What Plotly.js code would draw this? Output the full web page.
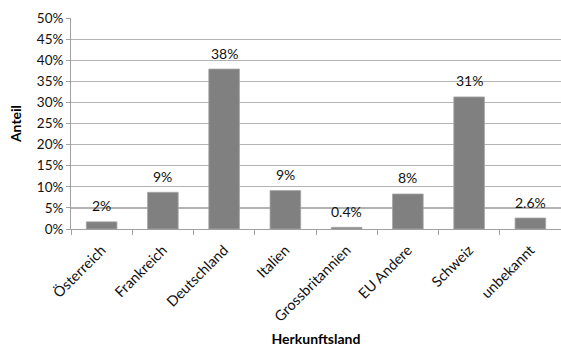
<!DOCTYPE html>
<html>
<head>
<meta charset="utf-8">
<script src="https://cdn.plot.ly/plotly-3.0.1.min.js"></script>
<style>
  html, body { margin: 0; padding: 0; background: #fff; }
  #chart { width: 561px; height: 347px; }
</style>
</head>
<body>
<div id="chart"></div>
<script>
// Share of origin countries (percent)
const countries = ['Österreich', 'Frankreich', 'Deutschland', 'Italien', 'Grossbritannien', 'EU Andere', 'Schweiz', 'unbekannt'];
const shares = [1.7, 8.7, 37.9, 9.1, 0.4, 8.3, 31.3, 2.6];
const shareLabels = ['2%', '9%', '38%', '9%', '0.4%', '8%', '31%', '2.6%'];
const yTicks = [0, 5, 10, 15, 20, 25, 30, 35, 40, 45, 50];

const fontFamily = 'Lato, "Open Sans", sans-serif';
const textColor = '#111';

const bars = {
  type: 'bar',
  x: countries,
  y: shares,
  marker: { color: '#808080', line: { color: '#a6a6a6', width: 0.8 } },
  width: 0.5,
  hoverinfo: 'skip'
};

const valueLabels = countries.map((c, i) => ({
  x: c,
  y: shares[i],
  xref: 'x',
  yref: 'y',
  text: shareLabels[i],
  showarrow: false,
  yanchor: 'middle',
  yshift: 16,
  font: { family: fontFamily, size: 14, color: textColor }
}));

const layout = {
  width: 561,
  height: 347,
  margin: { l: 71, r: 0, t: 18, b: 118 },
  paper_bgcolor: '#fff',
  plot_bgcolor: '#fff',
  showlegend: false,
  font: { family: fontFamily, size: 14, color: textColor },
  xaxis: {
    type: 'category',
    tickangle: -45,
    ticks: 'outside',
    tickson: 'boundaries',
    ticklen: 5,
    tickcolor: '#a0a0a0',
    ticklabelstandoff: 6,
    showline: true,
    linecolor: '#a0a0a0',
    linewidth: 1,
    showgrid: false,
    tickfont: { family: fontFamily, size: 14.5, color: textColor },
    title: { text: 'Herkunftsland', standoff: 24, font: { family: fontFamily, size: 14, color: '#000', weight: 'bold' } }
  },
  yaxis: {
    range: [0, 50],
    tickvals: yTicks,
    ticktext: yTicks.map(v => v + '%'),
    ticks: 'outside',
    ticklen: 4,
    tickcolor: '#a0a0a0',
    showline: true,
    linecolor: '#a0a0a0',
    linewidth: 1,
    showgrid: true,
    gridcolor: '#b3b3b3',
    gridwidth: 1.2,
    zeroline: false,
    tickfont: { family: fontFamily, size: 13.5, color: textColor },
    title: { text: 'Anteil', standoff: 11, font: { family: fontFamily, size: 14, color: '#000', weight: 'bold' } }
  },
  annotations: valueLabels
};

Plotly.newPlot('chart', [bars], layout, { displayModeBar: false, staticPlot: true });
</script>
</body>
</html>
